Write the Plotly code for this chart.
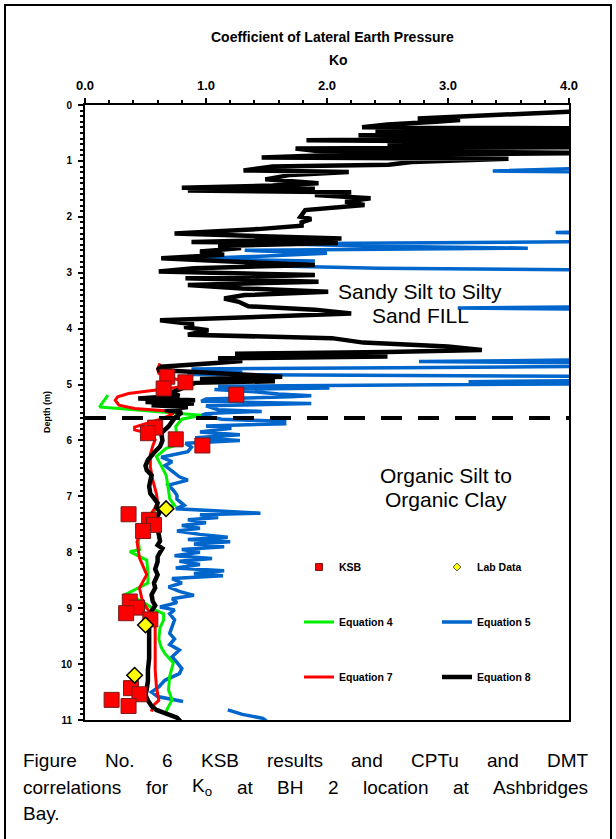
import plotly.graph_objects as go

# ---------------- data (depth in m, Ko) ----------------
eq8_depth = [0.10, 0.12, 0.24, 0.27, 0.30, 0.35, 0.40, 0.42, 0.46, 0.50, 0.54, 0.58, 0.63, 0.67, 0.72, 0.75,
             0.78, 0.82, 0.86, 0.90, 0.94, 0.96, 1.02, 1.07, 1.10, 1.17, 1.20, 1.25, 1.33, 1.40, 1.44, 1.48,
             1.50, 1.53, 1.56, 1.61, 1.67, 1.73, 1.79, 1.88, 2.00, 2.04, 2.10, 2.16, 2.22, 2.30, 2.39, 2.45,
             2.47, 2.52, 2.56, 2.62, 2.68, 2.74, 2.80, 2.86, 2.92, 2.98, 3.04, 3.10, 3.16, 3.22, 3.28, 3.34,
             3.40, 3.46, 3.52, 3.60, 3.66, 3.73, 3.85, 3.92, 3.97, 4.03, 4.11, 4.17, 4.25, 4.32, 4.38, 4.42,
             4.45, 4.50, 4.53, 4.58, 4.62, 4.68, 4.74, 4.80, 4.86, 4.90, 4.94, 4.97, 5.02, 5.08, 5.14, 5.20,
             5.25, 5.28, 5.31, 5.34, 5.37, 5.40, 5.45, 5.50, 5.60, 5.75, 5.87, 6.00, 6.11, 6.22, 6.35, 6.45,
             6.53, 6.62, 6.71, 6.82, 6.95, 7.05, 7.12, 7.20, 7.27, 7.35, 7.45, 7.57, 7.68, 7.80, 7.87, 7.93,
             8.00, 8.08, 8.17, 8.30, 8.40, 8.47, 8.55, 8.64, 8.76, 8.88, 8.95, 9.05, 9.15, 9.30, 9.50, 9.70,
             9.90, 10.10, 10.30, 10.45, 10.55, 10.65, 10.75, 10.82, 10.90, 10.96, 11.05]
eq8_ko = [4.40, 4.00, 2.75, 3.10, 2.90, 2.50, 2.29, 4.50, 2.40, 4.50, 2.26, 4.50, 1.83, 4.50, 2.50, 4.50,
          1.74, 1.90, 4.30, 2.00, 1.46, 3.50, 2.70, 2.51, 1.55, 1.31, 2.18, 1.70, 1.49, 1.93, 1.55, 0.80,
          1.90, 0.85, 2.20, 1.90, 2.36, 2.15, 2.31, 1.82, 1.78, 1.87, 1.79, 1.79, 1.43, 0.74, 2.12, 0.88,
          2.09, 1.10, 1.29, 0.95, 1.15, 0.63, 1.20, 1.90, 0.90, 0.61, 1.90, 0.83, 1.93, 0.85, 1.30, 2.01,
          1.32, 1.15, 1.27, 1.35, 1.90, 2.20, 0.62, 0.90, 0.82, 1.02, 0.85, 2.04, 2.30, 3.00, 3.28, 2.50,
          1.24, 2.50, 1.10, 1.30, 1.05, 0.63, 0.60, 1.20, 1.63, 0.95, 1.57, 0.91, 0.85, 0.80, 0.72, 0.78,
          0.44, 0.91, 0.50, 0.90, 0.55, 0.85, 0.66, 0.80, 0.74, 0.69, 0.63, 0.64, 0.62, 0.57, 0.52, 0.50,
          0.51, 0.55, 0.54, 0.53, 0.54, 0.57, 0.60, 0.59, 0.62, 0.60, 0.58, 0.60, 0.61, 0.62, 0.60, 0.64,
          0.62, 0.60, 0.60, 0.58, 0.60, 0.59, 0.57, 0.58, 0.55, 0.56, 0.58, 0.55, 0.54, 0.53, 0.53, 0.53,
          0.53, 0.52, 0.52, 0.51, 0.50, 0.52, 0.55, 0.59, 0.69, 0.76, 0.80]

eq5_depth = [1.10, 1.18, 1.21, 2.25, 2.28, 2.31, 2.44, 2.46, 2.48, 2.52, 2.56, 2.60, 2.65, 2.70, 2.75, 2.79,
             2.83, 2.88, 2.92, 2.96, 3.60, 3.63, 3.66, 4.55, 4.59, 4.62, 4.67, 4.70, 4.72, 4.76, 4.82, 4.86,
             4.92, 4.95, 4.98, 5.03, 5.06, 5.09, 5.13, 5.17, 5.20, 5.22, 5.26, 5.30, 5.34, 5.38, 5.45, 5.48,
             5.52, 5.55, 5.62, 5.66, 5.70, 5.74, 5.78, 5.85, 5.90, 5.95, 6.00, 6.05, 6.12, 6.20, 6.30, 6.38,
             6.45, 6.55, 6.65, 6.71, 6.80, 6.89, 6.98, 7.05, 7.16, 7.22, 7.28, 7.30, 7.33, 7.38, 7.42, 7.47,
             7.52, 7.57, 7.62, 7.68, 7.73, 7.77, 7.81, 7.85, 7.90, 7.95, 8.00, 8.06, 8.11, 8.16, 8.22, 8.28,
             8.33, 8.38, 8.42, 8.47, 8.55, 8.62, 8.70, 8.77, 8.83, 8.90, 8.98, 9.03, 9.10, 9.21, 9.33, 9.45,
             9.55, 9.65, 9.75, 9.87, 9.97, 10.08, 10.17, 10.29, 10.41, 10.50, 10.58, 10.67, None, 10.82, 10.90,
             10.97, 11.02]
eq5_ko = [4.60, 3.37, 4.60, 4.60, 3.89, 4.60, 4.60, 2.55, 1.60, 2.30, 3.66, 1.32, 2.00, 1.50, 0.88, 1.90,
          1.32, 1.60, 2.42, 4.60, 4.60, 3.08, 4.60, 4.60, 2.76, 4.60, 4.60, 2.58, 0.88, 1.30, 0.85, 4.60,
          4.60, 3.17, 4.60, 1.10, 2.02, 1.07, 1.40, 1.60, 1.87, 1.70, 1.00, 0.96, 1.87, 1.00, 1.10, 1.46,
          1.00, 0.96, 1.13, 1.65, 1.65, 1.00, 1.21, 0.95, 1.28, 0.91, 1.28, 0.83, 0.88, 0.85, 0.63, 0.72,
          0.66, 0.72, 0.78, 0.85, 0.69, 0.73, 0.76, 0.76, 0.82, 0.75, 1.20, 1.45, 0.95, 1.10, 0.85, 1.00,
          0.80, 0.95, 0.76, 0.95, 1.18, 0.85, 1.20, 0.90, 1.15, 0.80, 0.95, 0.74, 1.05, 0.78, 0.95, 0.75,
          1.15, 0.90, 1.14, 0.72, 0.80, 0.69, 0.78, 0.90, 0.72, 0.76, 0.62, 0.74, 0.70, 0.74, 0.72, 0.70,
          0.74, 0.70, 0.78, 0.72, 0.76, 0.80, 0.78, 0.66, 0.61, 0.55, 0.60, 0.81, None, 1.18, 1.30,
          1.47, 1.50]

eq4_depth = [5.19, 5.40, 5.43, 5.49, 5.55, 5.62, 5.75, 5.96, 6.08, 6.14, 6.29, 6.45, 6.62, 6.74, 6.90, 7.04,
             7.16, 7.22, 7.30, 7.45, 7.60, 7.80, 7.95, 7.99, 8.14, 8.35, 8.55, 8.77, 8.82, 8.92, 9.03, 9.10,
             9.21, 9.35, 9.55, 9.70, 9.81, 9.98, 10.22, 10.46, 10.64, 10.76, 10.85]
eq4_ko = [0.19, 0.12, 0.28, 0.66, 0.96, 0.80, 0.75, 0.76, 0.76, 0.67, 0.59, 0.63, 0.67, 0.68, 0.69, 0.70,
          0.74, 0.60, 0.55, 0.51, 0.47, 0.44, 0.45, 0.37, 0.51, 0.52, 0.52, 0.32, 0.42, 0.50, 0.58, 0.65,
          0.65, 0.62, 0.61, 0.63, 0.66, 0.73, 0.70, 0.69, 0.72, 0.69, 0.67]

eq7_depth = [4.62, 4.72, 4.80, 4.88, 4.95, 4.99, 5.04, 5.10, 5.16, 5.22, 5.28, 5.37, 5.43, 5.47, 5.52, 5.60,
             5.70, 5.76, 5.81, 5.87, 5.99, 6.10, 6.25, 6.47, 6.71, 6.95, 7.10, 7.20, 7.33, 7.57, 7.81, 8.10,
             8.40, 8.64, 8.83, 9.00, 9.10, 9.25, 9.50, 9.80, 10.10, 10.40, 10.65, 10.75, 10.85]
eq7_ko = [0.62, 0.60, 0.61, 0.70, 0.85, 0.90, 0.80, 0.60, 0.36, 0.27, 0.25, 0.28, 0.41, 0.66, 0.73, 0.65,
          0.50, 0.41, 0.41, 0.52, 0.58, 0.56, 0.54, 0.54, 0.56, 0.59, 0.60, 0.58, 0.54, 0.47, 0.43, 0.45,
          0.51, 0.45, 0.47, 0.51, 0.55, 0.58, 0.58, 0.58, 0.58, 0.59, 0.61, 0.56, 0.55]

ksb_depth = [4.86, 4.96, 5.07, 5.18, 5.77, 5.87, 5.98, 6.09, 7.32, 7.42, 7.51, 7.62, 8.88, 8.99, 9.09, 9.20,
             10.43, 10.54, 10.64, 10.75]
ksb_ko = [0.68, 0.83, 0.65, 1.25, 0.58, 0.52, 0.75, 0.97, 0.36, 0.53, 0.57, 0.48, 0.37, 0.43, 0.34, 0.54,
          0.38, 0.45, 0.22, 0.36]

lab_depth = [7.22, 9.30, 10.20]
lab_ko = [0.67, 0.50, 0.41]

boundary_depth = [5.6, 5.6]
boundary_ko = [0.0, 4.0]

x_ticks = [0, 1, 2, 3, 4]
x_tick_labels = ["0.0", "1.0", "2.0", "3.0", "4.0"]
y_ticks = list(range(0, 12))

# ---------------- layout geometry (page pixels) ----------------
W, H = 616, 839
ML, MR, MT, MB = 85, 47, 105, 119
PW, PH = W - ML - MR, H - MT - MB


def px(x):
    return (x - ML) / PW


def py(y):
    return (H - MB - y) / PH


FONT = "Liberation Sans, Arial, sans-serif"

fig = go.Figure()

fig.add_trace(go.Scatter(x=eq5_ko, y=eq5_depth, mode="lines", name="Equation 5",
                         line=dict(color="#0066CC", width=3.5), legend="legend4", connectgaps=False))
fig.add_trace(go.Scatter(x=eq4_ko, y=eq4_depth, mode="lines", name="Equation 4",
                         line=dict(color="#00F000", width=3), legend="legend3"))
fig.add_trace(go.Scatter(x=eq7_ko, y=eq7_depth, mode="lines", name="Equation 7",
                         line=dict(color="#FF0000", width=3), legend="legend5"))
fig.add_trace(go.Scatter(x=eq8_ko, y=eq8_depth, mode="lines", name="Equation 8",
                         line=dict(color="#000000", width=4.5), legend="legend6"))
fig.add_trace(go.Scatter(x=boundary_ko, y=boundary_depth, mode="lines", showlegend=False,
                         line=dict(color="#000000", width=4, dash="21px,16px")))
fig.add_trace(go.Scatter(x=ksb_ko, y=ksb_depth, mode="markers", showlegend=False,
                         marker=dict(symbol="square", size=15, color="#FF0000",
                                     line=dict(color="#7A1A1A", width=1))))
fig.add_trace(go.Scatter(x=lab_ko, y=lab_depth, mode="markers", showlegend=False,
                         marker=dict(symbol="diamond", size=12, color="#FFFF00",
                                     line=dict(color="#000000", width=1.5))))
# legend proxies for the point series (small legend symbols)
fig.add_trace(go.Scatter(x=[None], y=[None], mode="markers", name="KSB", legend="legend",
                         marker=dict(symbol="square", size=7, color="#FF0000",
                                     line=dict(color="#7A1A1A", width=1))))
fig.add_trace(go.Scatter(x=[None], y=[None], mode="markers", name="Lab Data", legend="legend2",
                         marker=dict(symbol="diamond", size=6, color="#FFFF00",
                                     line=dict(color="#555555", width=1))))

leg_font = dict(family=FONT, size=10.5, color="#000000", weight="bold")
col1, col2 = px(299), px(437)
rows = [py(567), py(622), py(677)]


def leg(x, y):
    return dict(x=x, y=y, xanchor="left", yanchor="middle", bgcolor="rgba(0,0,0,0)",
                borderwidth=0, font=leg_font)


def ann(text, x, y, size, xref="paper", yref="paper", **kw):
    d = dict(text=text, x=x, y=y, xref=xref, yref=yref, showarrow=False,
             xanchor=kw.pop("xanchor", "center"), yanchor=kw.pop("yanchor", "middle"),
             font=dict(family=FONT, size=size, color="#000000"))
    d.update(kw)
    return d


annotations = [
    ann("<b>Coefficient of Lateral Earth Pressure</b>", px(332), py(37), 14),
    ann("<b>Ko</b>", px(338), py(60), 14),
    ann("<b>Depth (m)</b>", px(47), py(412), 9, textangle=-90),
    ann("Sandy Silt to Silty", 2.77, 3.33, 21, xref="x", yref="y"),
    ann("Sand FILL", 2.77, 3.76, 21, xref="x", yref="y"),
    ann("Organic Silt to", 2.98, 6.62, 21, xref="x", yref="y"),
    ann("Organic Clay", 2.98, 7.05, 21, xref="x", yref="y"),
]

# ---------------- justified caption ----------------
CW = {' ': 278, '.': 278, '2': 556, '6': 556, 'A': 667, 'B': 667, 'C': 722, 'D': 722, 'F': 611,
      'H': 722, 'K': 667, 'M': 833, 'N': 722, 'P': 667, 'S': 667, 'T': 611, 'a': 556, 'b': 556,
      'c': 500, 'd': 556, 'e': 556, 'f': 278, 'g': 556, 'h': 556, 'i': 222, 'l': 222, 'n': 556,
      'o': 556, 'r': 333, 's': 500, 't': 278, 'u': 556, 'y': 500}
CAP_SIZE = 19
caption_lines = [
    ["Figure", "No.", "6", "KSB", "results", "and", "CPTu", "and", "DMT"],
    ["correlations", "for", "K<sub>o</sub>", "at", "BH", "2", "location", "at", "Ashbridges"],
    ["Bay."],
]
caption_y = [760, 787, 813]
CAP_L, CAP_R = 23, 588


def word_width(w):
    if "<sub>" in w:
        main, sub = w.split("<sub>")
        sub = sub.replace("</sub>", "")
        return (sum(CW.get(c, 556) for c in main) + 0.7 * sum(CW.get(c, 556) for c in sub)) * CAP_SIZE / 1000
    return sum(CW.get(c, 556) for c in w) * CAP_SIZE / 1000


for li, words in enumerate(caption_lines):
    widths = [word_width(w) for w in words]
    if li < len(caption_lines) - 1 and len(words) > 1:
        gap = (CAP_R - CAP_L - sum(widths)) / (len(words) - 1)
    else:
        gap = CW[' '] * CAP_SIZE / 1000
    xpos = CAP_L
    for w, wd in zip(words, widths):
        annotations.append(ann(w, px(xpos), py(caption_y[li]), CAP_SIZE, xanchor="left",
                               borderpad=0, borderwidth=0))
        xpos += wd + gap

shapes = [
    dict(type="rect", xref="paper", yref="paper", x0=px(5), x1=px(611), y0=py(850), y1=py(5),
         line=dict(color="#000000", width=2), fillcolor="rgba(0,0,0,0)", layer="below"),
]

fig.update_layout(
    width=W, height=H,
    margin=dict(l=ML, r=MR, t=MT, b=MB, pad=0),
    paper_bgcolor="white", plot_bgcolor="white",
    font=dict(family=FONT, color="#000000"),
    annotations=annotations,
    shapes=shapes,
    legend=leg(col1, rows[0]),
    legend2=leg(col2, rows[0]),
    legend3=leg(col1, rows[1]),
    legend4=leg(col2, rows[1]),
    legend5=leg(col1, rows[2]),
    legend6=leg(col2, rows[2]),
    xaxis=dict(range=[0, 4], side="top", tickvals=x_ticks, ticktext=[f"<b>{t}</b>" for t in x_tick_labels],
               ticks="outside", ticklen=5, tickwidth=1.5, tickcolor="#000000",
               minor=dict(dtick=0.2, ticks="outside", ticklen=3, tickwidth=1.5, tickcolor="#000000"),
               showline=True, linecolor="#000000", linewidth=2, mirror=True,
               showgrid=False, zeroline=False, ticklabelstandoff=3,
               tickfont=dict(family=FONT, size=13, color="#000000")),
    yaxis=dict(range=[11, 0], tickvals=y_ticks, ticktext=[f"<b>{t}</b>" for t in y_ticks],
               ticks="outside", ticklen=5, tickwidth=1.5, tickcolor="#000000",
               minor=dict(dtick=0.1, ticks="outside", ticklen=3, tickwidth=1.5, tickcolor="#000000"),
               showline=True, linecolor="#000000", linewidth=2, mirror=True,
               showgrid=False, zeroline=False, ticklabelstandoff=4,
               tickfont=dict(family=FONT, size=10, color="#000000")),
)

fig.write_html("out.html", config={"displayModeBar": False},
               post_script="document.body.style.margin='0';")
